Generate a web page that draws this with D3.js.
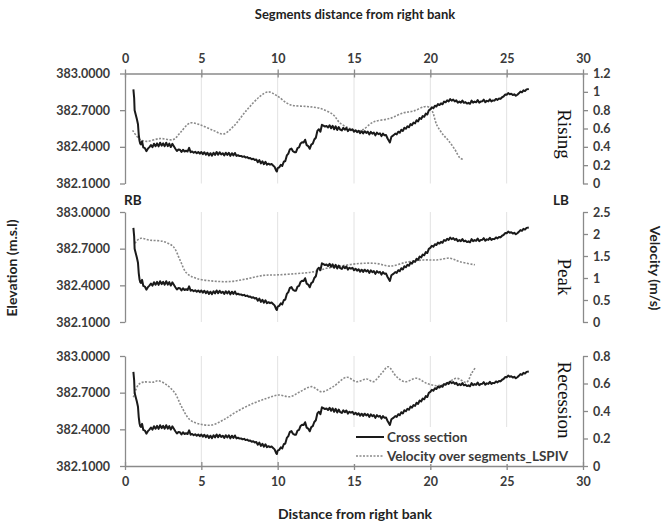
<!DOCTYPE html>
<html>
<head>
<meta charset="utf-8">
<script src="https://cdn.jsdelivr.net/npm/d3@7"></script>
<style>
  body { margin: 0; background: #fff; }
  svg text { font-family: Lato, "Open Sans", sans-serif; font-weight: bold; }
</style>
</head>
<body>
<div id="chart"></div>
<script>
// distance ticks (m) shared by top and bottom axis
const distanceTicks = [0, 5, 10, 15, 20, 25, 30]
const elevationTicks = [382.1, 382.4, 382.7, 383.0]
const panelNames = ['Rising', 'Peak', 'Recession']
const velocityTicks = [
    [0, 0.2, 0.4, 0.6, 0.8, 1, 1.2],
    [0, 0.5, 1, 1.5, 2, 2.5],
    [0, 0.2, 0.4, 0.6, 0.8]
]

// cross section [distance, elevation], same survey for all three stages
const crossSection = [
    [0.55, 382.870], [0.60, 382.800], [0.63, 382.700], [0.70, 382.665], [0.78, 382.625], [0.85, 382.585],
    [0.90, 382.500], [0.95, 382.450], [1.00, 382.425], [1.05, 382.420], [1.12, 382.445], [1.20, 382.395],
    [1.30, 382.390], [1.40, 382.365], [1.50, 382.385], [1.60, 382.398], [1.70, 382.415], [1.80, 382.398],
    [1.90, 382.425], [2.00, 382.405], [2.10, 382.428], [2.20, 382.404], [2.30, 382.434], [2.40, 382.410],
    [2.50, 382.428], [2.60, 382.405], [2.70, 382.434], [2.80, 382.406], [2.90, 382.426], [3.00, 382.398],
    [3.10, 382.424], [3.20, 382.404], [3.30, 382.384], [3.40, 382.366], [3.50, 382.378], [3.60, 382.376],
    [3.70, 382.358], [3.80, 382.376], [3.90, 382.362], [4.00, 382.368], [4.10, 382.362], [4.20, 382.392],
    [4.30, 382.356], [4.40, 382.362], [4.50, 382.352], [4.60, 382.360], [4.70, 382.348], [4.80, 382.358],
    [4.90, 382.344], [5.00, 382.358], [5.10, 382.340], [5.20, 382.356], [5.30, 382.336], [5.40, 382.352],
    [5.50, 382.330], [5.60, 382.348], [5.70, 382.328], [5.80, 382.352], [5.90, 382.334], [6.00, 382.358],
    [6.10, 382.336], [6.20, 382.356], [6.30, 382.338], [6.40, 382.348], [6.50, 382.330], [6.60, 382.352],
    [6.70, 382.334], [6.80, 382.352], [6.90, 382.326], [7.00, 382.348], [7.10, 382.330], [7.20, 382.350],
    [7.30, 382.326], [7.40, 382.332], [7.50, 382.324], [7.60, 382.326], [7.70, 382.318], [7.80, 382.322],
    [7.90, 382.312], [8.00, 382.316], [8.10, 382.306], [8.20, 382.308], [8.30, 382.298], [8.40, 382.302],
    [8.50, 382.292], [8.60, 382.296], [8.70, 382.274], [8.80, 382.292], [8.90, 382.264], [9.00, 382.282],
    [9.10, 382.258], [9.20, 382.278], [9.30, 382.254], [9.40, 382.262], [9.50, 382.254], [9.60, 382.260],
    [9.70, 382.248], [9.80, 382.236], [9.90, 382.206], [9.95, 382.198], [10.00, 382.226], [10.10, 382.232],
    [10.20, 382.252], [10.30, 382.244], [10.40, 382.278], [10.50, 382.284], [10.60, 382.330], [10.70, 382.344],
    [10.80, 382.380], [10.90, 382.386], [11.00, 382.364], [11.10, 382.356], [11.20, 382.356], [11.30, 382.390],
    [11.40, 382.396], [11.50, 382.428], [11.60, 382.438], [11.70, 382.436], [11.80, 382.458], [11.90, 382.414],
    [12.00, 382.406], [12.10, 382.384], [12.20, 382.418], [12.30, 382.426], [12.40, 382.460], [12.50, 382.474],
    [12.60, 382.530], [12.70, 382.544], [12.80, 382.524], [12.90, 382.580], [13.00, 382.574], [13.10, 382.566],
    [13.20, 382.570], [13.30, 382.558], [13.40, 382.576], [13.50, 382.552], [13.60, 382.572], [13.70, 382.544],
    [13.80, 382.568], [13.90, 382.538], [14.00, 382.562], [14.10, 382.540], [14.20, 382.534], [14.30, 382.556],
    [14.40, 382.540], [14.50, 382.554], [14.60, 382.528], [14.70, 382.544], [14.80, 382.536], [14.90, 382.544],
    [15.00, 382.524], [15.10, 382.536], [15.20, 382.520], [15.30, 382.532], [15.40, 382.512], [15.50, 382.528],
    [15.60, 382.510], [15.70, 382.528], [15.80, 382.514], [15.90, 382.524], [16.00, 382.502], [16.10, 382.522],
    [16.20, 382.508], [16.30, 382.516], [16.40, 382.494], [16.50, 382.516], [16.60, 382.504], [16.70, 382.510],
    [16.80, 382.488], [16.90, 382.508], [17.00, 382.494], [17.10, 382.496], [17.20, 382.468], [17.35, 382.436],
    [17.45, 382.482], [17.60, 382.496], [17.70, 382.508], [17.80, 382.502], [17.90, 382.524], [18.00, 382.516],
    [18.10, 382.540], [18.20, 382.530], [18.30, 382.556], [18.40, 382.548], [18.50, 382.568], [18.60, 382.560],
    [18.70, 382.586], [18.80, 382.578], [18.90, 382.598], [19.00, 382.592], [19.10, 382.618], [19.20, 382.608],
    [19.30, 382.636], [19.40, 382.628], [19.50, 382.652], [19.60, 382.646], [19.70, 382.672], [19.80, 382.664],
    [19.90, 382.698], [20.00, 382.706], [20.10, 382.724], [20.20, 382.716], [20.30, 382.736], [20.40, 382.730],
    [20.50, 382.750], [20.60, 382.742], [20.70, 382.756], [20.80, 382.748], [20.90, 382.770], [21.00, 382.764],
    [21.10, 382.780], [21.20, 382.772], [21.30, 382.790], [21.40, 382.778], [21.50, 382.786], [21.60, 382.772],
    [21.70, 382.780], [21.80, 382.762], [21.90, 382.770], [22.00, 382.762], [22.10, 382.778], [22.20, 382.760],
    [22.30, 382.766], [22.40, 382.754], [22.50, 382.760], [22.60, 382.752], [22.70, 382.778], [22.80, 382.762],
    [22.90, 382.770], [23.00, 382.764], [23.10, 382.782], [23.20, 382.762], [23.30, 382.770], [23.40, 382.772],
    [23.50, 382.786], [23.60, 382.766], [23.70, 382.776], [23.80, 382.772], [23.90, 382.788], [24.00, 382.772],
    [24.10, 382.780], [24.20, 382.778], [24.30, 382.792], [24.40, 382.784], [24.50, 382.796], [24.60, 382.792],
    [24.70, 382.806], [24.80, 382.812], [24.90, 382.828], [25.00, 382.826], [25.10, 382.840], [25.20, 382.830],
    [25.30, 382.834], [25.40, 382.824], [25.50, 382.830], [25.60, 382.818], [25.70, 382.826], [25.80, 382.838],
    [25.90, 382.852], [26.00, 382.846], [26.10, 382.862], [26.20, 382.856], [26.30, 382.870], [26.45, 382.874]
]

// LSPIV velocity over segments [distance, m/s]
const risingVelocity = [
    [0.5, 0.58], [0.98, 0.48], [1.42, 0.46], [2.29, 0.49], [3.17, 0.48], [3.6, 0.55], [4.26, 0.66],
    [4.91, 0.64], [5.78, 0.58], [6.44, 0.54], [7.09, 0.62], [7.97, 0.80], [8.84, 0.95], [9.39, 1.0],
    [9.93, 0.96], [10.81, 0.86], [11.9, 0.84], [12.77, 0.82], [13.64, 0.75], [14.08, 0.66], [14.73, 0.60],
    [15.2, 0.57], [15.61, 0.59], [16.26, 0.67], [17.35, 0.71], [18.23, 0.77], [18.88, 0.79], [19.76, 0.84],
    [20.09, 0.80], [20.42, 0.64], [20.85, 0.53], [21.18, 0.47], [21.61, 0.37], [21.94, 0.28], [22.2, 0.26]
]
const peakVelocity = [
    [0.65, 1.79], [0.98, 1.90], [1.64, 1.86], [2.51, 1.83], [3.17, 1.71], [3.6, 1.41], [4.04, 1.11],
    [4.69, 0.99], [5.78, 0.93], [6.88, 0.92], [7.97, 0.98], [9.06, 1.06], [9.93, 1.07], [11.24, 1.10],
    [12.33, 1.14], [13.21, 1.22], [14.08, 1.27], [15.39, 1.33], [16.48, 1.33], [17.35, 1.27], [18.45, 1.36],
    [19.54, 1.41], [20.42, 1.41], [21.28, 1.45], [21.94, 1.37], [22.92, 1.30]
]
const recessionVelocity = [
    [0.55, 0.50], [0.87, 0.59], [1.2, 0.61], [1.85, 0.61], [2.18, 0.62], [2.73, 0.59], [3.27, 0.53],
    [3.71, 0.43], [4.26, 0.335], [4.91, 0.305], [5.68, 0.298], [6.44, 0.335], [7.31, 0.395], [8.4, 0.456],
    [9.28, 0.492], [10.04, 0.516], [10.81, 0.504], [11.46, 0.54], [12.23, 0.577], [12.88, 0.54], [13.64, 0.577],
    [14.52, 0.645], [15.17, 0.613], [15.83, 0.633], [16.26, 0.613], [16.81, 0.674], [17.24, 0.722],
    [17.79, 0.649], [18.34, 0.613], [19.1, 0.638], [19.76, 0.601], [20.42, 0.584], [21.07, 0.601],
    [21.72, 0.638], [22.37, 0.609], [22.7, 0.674], [22.99, 0.722]
]

const width = 665, height = 527
const axisColor = '#8a8a8a', textColor = '#3a3a3a'
const panelTops = [73.5, 212, 356]
const panelHeight = 110
const velocities = [risingVelocity, peakVelocity, recessionVelocity]

const svg = d3.select('#chart').append('svg')
    .attr('width', width)
    .attr('height', height)

const x = d3.scaleLinear().domain([0, 30]).range([125, 583])

const styleAxis = (g) => {
    g.select('.domain').attr('stroke', axisColor).attr('stroke-width', 1.3)
    g.selectAll('.tick line').attr('stroke', axisColor).attr('stroke-width', 1.3)
    g.selectAll('.tick text').attr('fill', textColor).style('font-size', '12.5px')
}

panelNames.forEach((name, i) => {
    const top = panelTops[i], bottom = top + panelHeight
    const yElev = d3.scaleLinear().domain([382.1, 383.0]).range([bottom, top])
    const vt = velocityTicks[i]
    const yVel = d3.scaleLinear().domain([0, vt[vt.length - 1]]).range([bottom, top])
    const g = svg.append('g')

    // vertical grid lines
    g.selectAll('.grid')
        .data(distanceTicks.filter(d => d > 0 && d < 30))
        .enter().append('line')
        .attr('x1', d => x(d)).attr('x2', d => x(d))
        .attr('y1', top).attr('y2', bottom)
        .attr('stroke', '#e2e2e2').attr('stroke-width', 1)

    // left elevation axis
    g.append('g')
        .attr('transform', `translate(${x(0)},0)`)
        .call(d3.axisLeft(yElev).tickValues(elevationTicks).tickFormat(d3.format('.4f')).tickSize(5).tickSizeOuter(0).tickPadding(10))
        .call(styleAxis)

    // right velocity axis
    g.append('g')
        .attr('transform', `translate(${x(30)},0)`)
        .call(d3.axisRight(yVel).tickValues(vt).tickFormat(d => String(d)).tickSize(5).tickSizeOuter(0).tickPadding(5))
        .call(styleAxis)

    // distance axes only on top panel (top) and bottom panel (bottom)
    if (i === 0 || i === 2) {
        const axis = i === 0 ? d3.axisTop(x) : d3.axisBottom(x)
        const ax = g.append('g')
            .attr('transform', `translate(0,${i === 0 ? top : bottom})`)
            .call(axis.tickValues(distanceTicks).tickSize(4).tickSizeOuter(0).tickPadding(7))
            .call(styleAxis)
        ax.selectAll('.tick line').attr('y1', -4).attr('y2', 4)
    }

    if (i === 2) {
        // legend box
        g.append('rect').attr('x', 352).attr('y', 427).attr('width', 229).attr('height', 37).attr('fill', '#fff')
        const items = [{ label: 'Cross section', dash: null, color: '#1a1a1a', w: 2 },
            { label: 'Velocity over segments_LSPIV', dash: '2,1.5', color: '#8a8a8a', w: 1.6 }]
        items.forEach((it, k) => {
            const ly = 437 + k * 19
            g.append('line').attr('x1', 356).attr('x2', 384).attr('y1', ly).attr('y2', ly)
                .attr('stroke', it.color).attr('stroke-width', it.w).attr('stroke-dasharray', it.dash)
            g.append('text').attr('x', 387).attr('y', ly + 5).attr('fill', textColor)
                .style('font-size', '13.5px').text(it.label)
        })
    }

    // velocity (dotted)
    g.append('path')
        .datum(velocities[i])
        .attr('fill', 'none')
        .attr('stroke', '#8a8a8a')
        .attr('stroke-width', 1.6)
        .attr('stroke-dasharray', '2,1.5')
        .attr('d', d3.line().x(d => x(d[0])).y(d => yVel(d[1])).curve(d3.curveCatmullRom))

    // cross section
    g.append('path')
        .datum(crossSection)
        .attr('fill', 'none')
        .attr('stroke', '#1a1a1a')
        .attr('stroke-width', 2)
        .attr('stroke-linejoin', 'round')
        .attr('d', d3.line().x(d => x(d[0])).y(d => yElev(d[1])))

    // stage label
    const centers = [134, 277, 400]
    svg.append('text')
        .attr('transform', `translate(564,${centers[i]}) rotate(90)`)
        .attr('text-anchor', 'middle')
        .attr('dy', '0.33em')
        .style('font-family', '"Liberation Serif", "DejaVu Serif", serif')
        .style('font-weight', 'normal')
        .style('font-size', '19px')
        .attr('fill', '#111')
        .text(name)
})

// bank markers
svg.append('text').attr('x', 124).attr('y', 205).attr('fill', '#222').style('font-size', '13.5px').text('RB')
svg.append('text').attr('x', 553).attr('y', 205).attr('fill', '#222').style('font-size', '13.5px').text('LB')

// axis titles
svg.append('text').attr('x', 355).attr('y', 19).attr('text-anchor', 'middle').attr('fill', '#222')
    .style('font-size', '13px').text('Segments distance from right bank')
svg.append('text').attr('x', 355).attr('y', 519).attr('text-anchor', 'middle').attr('fill', '#222')
    .style('font-size', '14px').text('Distance from right bank')
svg.append('text').attr('transform', 'translate(17,268) rotate(-90)').attr('text-anchor', 'middle').attr('fill', '#222')
    .style('font-size', '14px').text('Elevation (m.s.l)')
svg.append('text').attr('transform', 'translate(650,268) rotate(90)').attr('text-anchor', 'middle').attr('fill', '#222')
    .style('font-size', '14px').text('Velocity (m/s)')
</script>
</body>
</html>
